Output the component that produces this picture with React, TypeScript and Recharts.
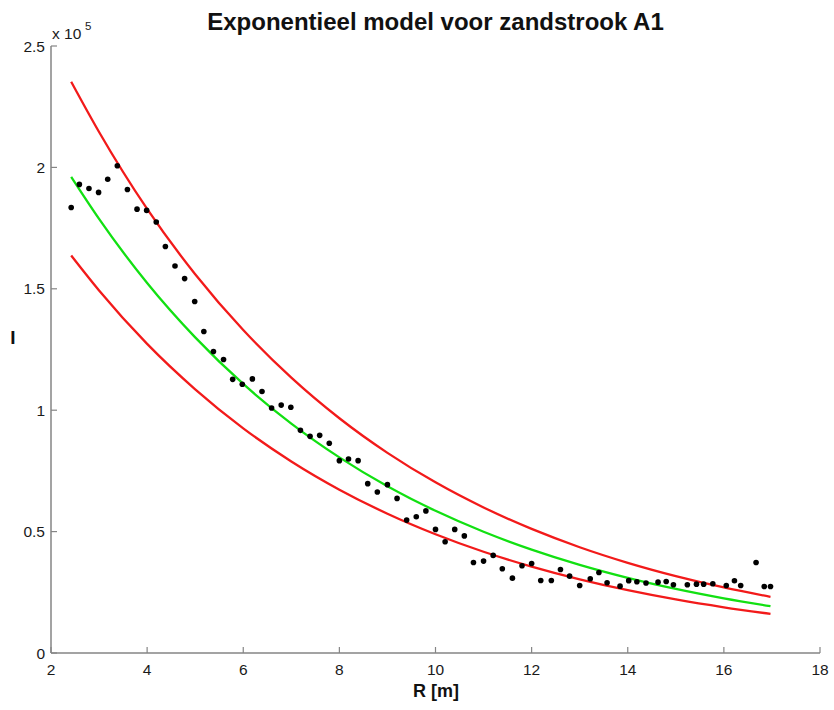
import React from "react";
import { ComposedChart, XAxis, YAxis, Line, Scatter } from "recharts";

// measured points (R in m, I)
const measuredR = [
  2.42, 2.59, 2.79, 2.99, 3.18, 3.38, 3.59, 3.79, 3.99, 4.19, 4.38, 4.58, 4.78, 4.99, 5.18,
  5.38, 5.59, 5.78, 5.98, 6.19, 6.39, 6.59, 6.79, 6.99, 7.19, 7.39, 7.59, 7.79, 8.0, 8.19,
  8.39, 8.59, 8.79, 9.0, 9.2, 9.4, 9.6, 9.8, 10.0, 10.2, 10.4, 10.6, 10.79, 11.0, 11.2,
  11.39, 11.6, 11.8, 12.0, 12.19, 12.41, 12.6, 12.79, 13.0, 13.22, 13.4, 13.57, 13.84, 14.02, 14.19,
  14.38, 14.63, 14.8, 14.95, 15.24, 15.43, 15.58, 15.77, 16.05, 16.22, 16.35, 16.67, 16.84, 16.97,
];
const measuredI = [
  183500, 193000, 191300, 189700, 195100, 200700, 190900, 182800, 182300, 177500, 167400, 159400, 154200, 144800, 132400,
  124200, 120900, 112700, 110700, 112900, 107700, 100900, 102100, 101200, 91710, 89240, 89650, 86360, 79220, 79880,
  79220, 69740, 66280, 69330, 63680, 54740, 56140, 58530, 50910, 45840, 50910, 48230, 37300, 37840, 40190,
  34710, 30830, 35940, 36890, 29880, 29880, 34420, 31660, 27820, 30590, 33180, 28940, 27530, 29800, 29350,
  28850, 29180, 29470, 28110, 28110, 28360, 28360, 28520, 27820, 29760, 27820, 37300, 27410, 27410,
];

// model curves
const curveR = [2.42, 3, 4, 5, 6, 7, 8, 9, 10, 11, 12, 13, 14, 15, 16, 16.97];
const fitI = [196100, 178800, 152400, 130000, 110800, 94490, 80570, 68690, 58570, 49940, 42590, 36310, 30960, 26400, 22510, 19280];
const upperI = [235300, 214600, 182900, 156000, 133000, 113400, 96680, 82430, 70280, 59930, 51110, 43570, 37150, 31680, 27010, 23140];
const lowerI = [163700, 149300, 127300, 108600, 92520, 78900, 67280, 57360, 48910, 41700, 35560, 30320, 25850, 22040, 18800, 16100];

const xTicks = [2, 4, 6, 8, 10, 12, 14, 16, 18];
const yTicks = [0, 50000, 100000, 150000, 200000, 250000];
const yTickLabels = ["0", "0.5", "1", "1.5", "2", "2.5"];

const points = measuredR.map((r, k) => ({ r, i: measuredI[k] }));
const fit = curveR.map((r, k) => ({ r, i: fitI[k] }));
const upper = curveR.map((r, k) => ({ r, i: upperI[k] }));
const lower = curveR.map((r, k) => ({ r, i: lowerI[k] }));

const FONT = "'Liberation Sans', Arial, Helvetica, sans-serif";
const AXIS = "#858585";

const XTick = (props: any) => {
  const { x, y, payload } = props;
  return (
    <g>
      <line x1={x} y1={y} x2={x} y2={y - 6} stroke={AXIS} strokeWidth={1.2} />
      <text x={x} y={y + 22} textAnchor="middle" fontSize={15.5} fill="#1a1a1a" fontFamily={FONT}>
        {payload.value}
      </text>
    </g>
  );
};

const YTick = (props: any) => {
  const { x, y, payload } = props;
  const idx = yTicks.indexOf(payload.value);
  return (
    <g>
      <line x1={x} y1={y} x2={x + 6} y2={y} stroke={AXIS} strokeWidth={1.2} />
      <text x={x - 6} y={y + 5.5} textAnchor="end" fontSize={15.5} fill="#1a1a1a" fontFamily={FONT}>
        {yTickLabels[idx]}
      </text>
    </g>
  );
};

const Dot = (props: any) => <circle cx={props.cx} cy={props.cy} r={2.8} fill="#000" />;

export default function App() {
  return (
    <div style={{ position: "absolute", left: 0, top: 0, width: 834, height: 710, background: "#fff" }}>
      <ComposedChart
        width={834}
        height={710}
        margin={{ top: 46, right: 14, left: 0, bottom: 0 }}
      >
        <XAxis
          type="number"
          dataKey="r"
          domain={[2, 18]}
          ticks={xTicks}
          height={57}
          tickSize={0}
          tickMargin={0}
          tickLine={false}
          tick={<XTick />}
          axisLine={{ stroke: AXIS, strokeWidth: 1.5 }}
          interval={0}
        />
        <YAxis
          type="number"
          dataKey="i"
          domain={[0, 250000]}
          ticks={yTicks}
          width={51}
          tickSize={0}
          tickMargin={0}
          tickLine={false}
          tick={<YTick />}
          axisLine={{ stroke: AXIS, strokeWidth: 1.5 }}
          interval={0}
        />
        <Line data={upper} dataKey="i" type="monotone" stroke="#f21a1a" strokeWidth={2.3} dot={false} isAnimationActive={false} />
        <Line data={lower} dataKey="i" type="monotone" stroke="#f21a1a" strokeWidth={2.3} dot={false} isAnimationActive={false} />
        <Line data={fit} dataKey="i" type="monotone" stroke="#12e012" strokeWidth={2.3} dot={false} isAnimationActive={false} />
        <Scatter data={points} dataKey="i" shape={<Dot />} isAnimationActive={false} />
      </ComposedChart>
      <svg width={834} height={710} style={{ position: "absolute", left: 0, top: 0, pointerEvents: "none" }}>
        <text x={435.5} y={30} textAnchor="middle" fontSize={24} fontWeight="bold" fill="#111" fontFamily={FONT}>
          Exponentieel model voor zandstrook A1
        </text>
        <text x={52} y={39} fontSize={15.5} fill="#1a1a1a" fontFamily={FONT}>
          x 10
        </text>
        <text x={85} y={30} fontSize={11.5} fill="#1a1a1a" fontFamily={FONT}>
          5
        </text>
        <text x={13} y={344} textAnchor="middle" fontSize={19} fontWeight="bold" fill="#111" fontFamily={FONT}>
          I
        </text>
        <text x={436} y={697} textAnchor="middle" fontSize={18} fontWeight="bold" fill="#111" fontFamily={FONT}>
          R [m]
        </text>
      </svg>
    </div>
  );
}
